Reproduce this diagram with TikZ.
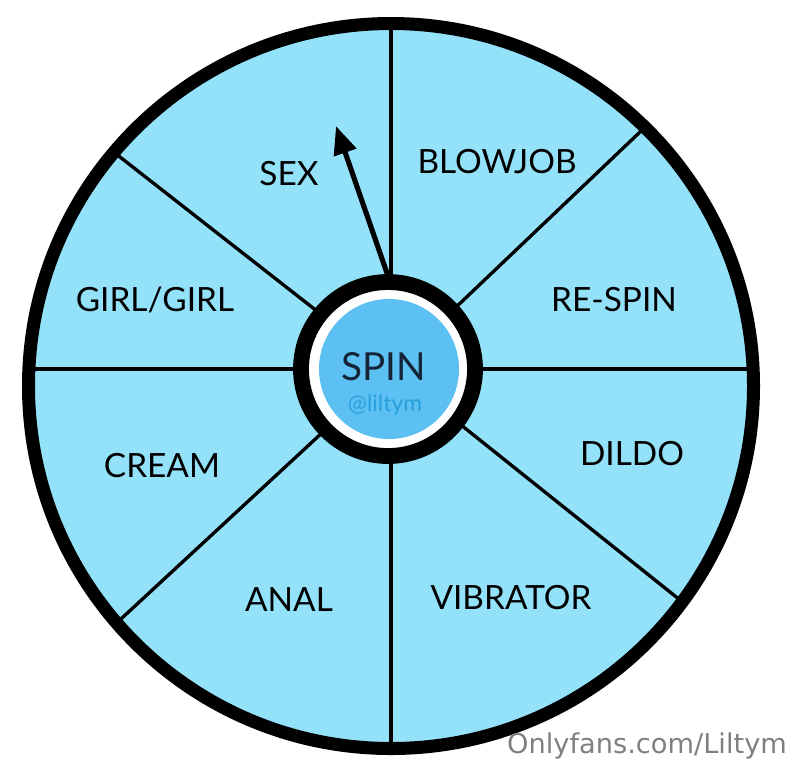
\documentclass[tikz,border=0pt]{standalone}
\usepackage{fontspec}
\usepackage{xcolor}
\usepackage{tikz}
\usetikzlibrary{arrows.meta, positioning, calc}
\setmainfont{Lato}
\newfontfamily\markfont{DejaVu Sans}
\definecolor{wheelblue}{RGB}{148, 226, 250}
\definecolor{hubblue}{RGB}{92, 192, 242}
\definecolor{spinnavy}{RGB}{22, 36, 56}
\definecolor{tagblue}{RGB}{40, 160, 222}
\definecolor{markgray}{RGB}{128, 128, 128}
\tikzset{
    slice/.style={font=\fontsize{19}{19}\selectfont, text=black},
    spoke/.style={line width=1.9pt, black},
}

\begin{document}
\begin{tikzpicture}[x=0.02cm, y=-0.02cm]
        \useasboundingbox (0,0) rectangle (800,772);

        % wheel face and spokes
        \fill[wheelblue] (391,386) circle (362);
        \begin{scope}
            \clip (391,386) circle (362);
            \coordinate (hubc) at (391,369);
            \draw[spoke] (391,0) -- (391,772);
            \draw[spoke] (0,369) -- (800,369);
            \draw[spoke] (hubc) -- ($(hubc)!1.2!(120,157)$);
            \draw[spoke] (hubc) -- ($(hubc)!1.2!(640,132)$);
            \draw[spoke] (hubc) -- ($(hubc)!1.2!(122,618)$);
            \draw[spoke] (hubc) -- ($(hubc)!1.2!(680,600)$);
        \end{scope}
        \draw[line width=7.4pt] (391,386) circle (362.5);

        % hub
        \fill[white] (388,369) circle (87);
        \draw[line width=9pt] (388,369) circle (87);
        \fill[hubblue] (389,369) circle (70);
        \node[font=\fontsize{22}{22}\selectfont, text=spinnavy] (spin) at (384,367) {SPIN};
        \node[font=\fontsize{13}{13}\selectfont, text=tagblue] (tag) at (385,405) {@liltym};

        % pointer
        \coordinate (hubtop) at (388,276);
        \coordinate (tip) at (336,126);
        \draw[line width=2.9pt, -{Triangle[length=16pt, width=13pt]}] (hubtop) -- (tip);

        % labels
        \node[slice] (sex) at (289,174) {SEX};
        \node[slice] (blowjob) at (497,162) {BLOWJOB};
        \node[slice] (girl) at (155,300) {GIRL/GIRL};
        \node[slice] (respin) at (614,300) {RE-SPIN};
        \node[slice] (cream) at (162,466) {CREAM};
        \node[slice] (dildo) at (632,454) {DILDO};
        \node[slice] (anal) at (289,600) {ANAL};
        \node[slice] (vibrator) at (511,598) {VIBRATOR};

        % watermark
        \node[font=\markfont\fontsize{15.5}{15.5}\selectfont, text=markgray] (mark) at (647,746) {Onlyfans.com/Liltym};
    \end{tikzpicture}
\end{document}
